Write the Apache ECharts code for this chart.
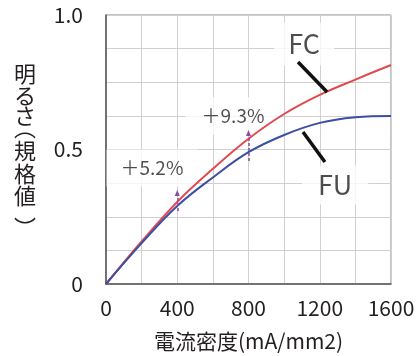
<!DOCTYPE html>
<html>
<head>
<meta charset="utf-8">
<script src="https://cdn.jsdelivr.net/npm/echarts@6/dist/echarts.min.js"></script>
<style>
html,body{margin:0;padding:0;background:#fff;}
#c{width:417px;height:356px;}
</style>
</head>
<body>
<div id="c"></div>
<script>
var currentDensity = [0, 200, 400, 600, 800, 1000, 1200, 1400, 1600];
var fcBrightness = [0, 0.158, 0.305, 0.428, 0.54, 0.632, 0.703, 0.76, 0.814];
var fuBrightness = [0, 0.152, 0.29, 0.396, 0.49, 0.554, 0.599, 0.62, 0.625];
var yTickLabels = {0: '0', 0.5: '0.5', 1: '1.0'};
var xTickLabels = {0: '0', 400: '400', 800: '800', 1200: '1200', 1600: '1600'};
var yTitleChars = ['明', 'る', 'さ', '︵', '規', '格', '値', '︶'];
var annotations = [
  {text: '＋5.2%', x: 258, y: 0.431, size: 19, pad: [9, 14, 9, 14]},
  {text: '＋9.3%', x: 713, y: 0.625, size: 19, pad: [9, 16, 9, 16]},
  {text: 'FC', x: 1112, y: 0.892, size: 27, pad: [8, 14, 8, 14]},
  {text: 'FU', x: 1286, y: 0.368, size: 27, pad: [6, 16, 6, 16]}
];
var errorBars = [
  {x: 400, top: 0.338, bottom: 0.264},
  {x: 800, top: 0.561, bottom: 0.45}
];
var pointers = [
  [[1078, 0.825], [1241, 0.714]],
  [[1106, 0.565], [1229, 0.4535]]
];

var FONT = '"Noto Sans CJK JP", "Noto Sans", sans-serif';
var TXT = '#231f20';

function zip(xs, ys) { return xs.map(function (x, i) { return [x, ys[i]]; }); }

// vertical title: characters stacked top to bottom
var titleY = [74, 96, 116, 128, 151, 174, 196, 228];
var titleGraphics = yTitleChars.map(function (ch, i) {
  return {
    type: 'text', x: 25, y: titleY[i], z: 10,
    style: {
      text: ch, fill: TXT, font: '22px ' + FONT,
      align: 'center', verticalAlign: 'middle'
    }
  };
});

var chart = echarts.init(document.getElementById('c'), null, {renderer: 'canvas'});
chart.setOption({
  animation: false,
  backgroundColor: '#fff',
  grid: {
    left: 106, right: 26, top: 15, bottom: 72,
    containLabel: false, outerBoundsMode: 'none',
    show: true, borderColor: '#888', borderWidth: 1
  },
  xAxis: {
    type: 'value', min: 0, max: 1600, interval: 200,
    axisLine: {show: true, onZero: false, lineStyle: {color: '#555', width: 1.5}},
    axisTick: {show: false},
    splitLine: {show: true, lineStyle: {color: '#d0d0d0', width: 1}},
    axisLabel: {
      margin: 14, fontSize: 21, color: TXT, fontFamily: FONT,
      formatter: function (v) { return xTickLabels[v] !== undefined ? xTickLabels[v] : ''; }
    },
    name: '電流密度(mA/mm2)', nameLocation: 'middle', nameGap: 47,
    nameTextStyle: {fontSize: 21, color: TXT, fontFamily: FONT}
  },
  yAxis: {
    type: 'value', min: 0, max: 1, interval: 0.125,
    axisLine: {show: true, onZero: false, lineStyle: {color: '#555', width: 1.5}},
    axisTick: {show: false},
    splitLine: {show: true, lineStyle: {color: '#d0d0d0', width: 1}},
    axisLabel: {
      margin: 23, fontSize: 21, color: TXT, fontFamily: FONT, padding: [6, 0, 0, 0],
      formatter: function (v) { return yTickLabels[v] !== undefined ? yTickLabels[v] : ''; }
    }
  },
  graphic: titleGraphics,
  series: [
    {
      type: 'scatter', z: 1, symbolSize: 0, silent: true,
      data: annotations.map(function (a) {
        return {
          value: [a.x, a.y],
          label: {
            show: true, position: 'inside', formatter: a.text,
            fontSize: a.size, color: TXT, fontFamily: FONT,
            backgroundColor: '#fff', padding: a.pad
          }
        };
      })
    },
    {
      type: 'line', name: 'FC', z: 3, data: zip(currentDensity, fcBrightness),
      smooth: 0.4, symbol: 'none', lineStyle: {color: '#e04a4f', width: 2},
      markLine: {
        silent: true, symbol: ['none', 'none'], label: {show: false},
        lineStyle: {color: '#111', width: 3.5, type: 'solid'},
        data: pointers.map(function (p) { return [{coord: p[0]}, {coord: p[1]}]; })
      }
    },
    {
      type: 'line', name: 'FU', z: 3, data: zip(currentDensity, fuBrightness),
      smooth: 0.4, symbol: 'none', lineStyle: {color: '#3a4ea6', width: 2},
      markLine: {
        silent: true, symbol: ['triangle', 'none'], symbolSize: [5, 6], label: {show: false},
        lineStyle: {color: '#8a4c9c', width: 1.5, type: [3, 2]},
        data: errorBars.map(function (e) { return [{coord: [e.x, e.top]}, {coord: [e.x, e.bottom]}]; })
      }
    }
  ]
});
</script>
</body>
</html>
